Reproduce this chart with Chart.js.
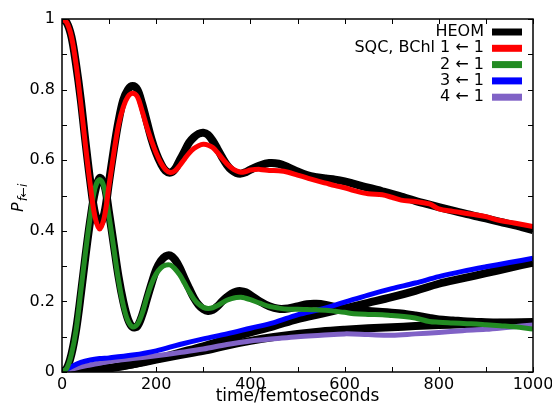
<!DOCTYPE html>
<html lang="en">
<head>
<meta charset="UTF-8">
<title>Populations HEOM vs SQC</title>
<script src="https://cdn.jsdelivr.net/npm/chart.js"></script>
<style>
  body { margin: 0; background: #fff; }
  canvas { display: block; }
</style>
</head>
<body>
<canvas id="chart" width="552" height="407"></canvas>
<script>
// time grids (fs)
const timeOsc = [0,10,20,30,40,50,60,70,80,90,100,110,120,130,140,150,160,170,180,190,200,
  210,220,230,240,250,260,270,280,290,300,310,320,330,340,350,360,370,380,390,400,
  420,440,460,480,500,520,540,560,580,600,620,650,680,700,720,750,780,800,830,860,880,900,930,960,1000];
const timeSlow = [0,20,40,60,80,100,150,200,250,300,350,400,450,500,550,600,650,700,750,800,850,900,950,1000];

// HEOM (black)
const heom11 = [1.0,0.99,0.95,0.87,0.77,0.65,0.54,0.45,0.42,0.45,0.54,0.63,0.71,0.77,0.80,0.81,0.80,0.76,0.71,0.66,0.62,
  0.59,0.57,0.565,0.575,0.60,0.625,0.65,0.665,0.675,0.678,0.672,0.655,0.632,0.608,0.587,0.572,0.564,0.562,0.566,0.573,
  0.585,0.592,0.59,0.58,0.568,0.558,0.552,0.548,0.545,0.54,0.533,0.522,0.512,0.505,0.497,0.485,0.474,0.467,0.457,0.447,0.441,0.435,0.425,0.416,0.402];
const heom21 = [0,0.01,0.05,0.12,0.22,0.33,0.43,0.51,0.55,0.53,0.45,0.36,0.27,0.20,0.15,0.127,0.13,0.16,0.205,0.25,0.29,
  0.315,0.328,0.33,0.318,0.295,0.265,0.237,0.21,0.19,0.178,0.173,0.176,0.186,0.20,0.212,0.222,0.228,0.229,0.226,0.218,
  0.20,0.186,0.179,0.18,0.186,0.192,0.193,0.19,0.184,0.179,0.176,0.173,0.17,0.168,0.166,0.16,0.153,0.149,0.146,0.143,0.142,0.141,0.14,0.139,0.138];
const heom31 = [0,0,0.002,0.004,0.007,0.01,0.022,0.037,0.055,0.073,0.093,0.112,0.13,0.15,0.165,0.18,0.196,0.212,0.23,0.25,0.265,0.28,0.295,0.31];
const heom41 = [0,0.001,0.003,0.005,0.008,0.012,0.022,0.035,0.048,0.06,0.075,0.088,0.099,0.108,0.115,0.12,0.124,0.127,0.13,0.133,0.135,0.137,0.14,0.142];

// SQC
const sqc11 = [1.0,0.99,0.95,0.87,0.76,0.64,0.53,0.44,0.405,0.44,0.53,0.62,0.70,0.75,0.78,0.79,0.78,0.74,0.695,0.655,0.62,
  0.592,0.573,0.565,0.57,0.585,0.603,0.62,0.633,0.641,0.645,0.643,0.636,0.622,0.605,0.59,0.578,0.57,0.566,0.568,0.572,
  0.574,0.571,0.57,0.566,0.558,0.55,0.542,0.535,0.528,0.522,0.514,0.505,0.502,0.495,0.487,0.483,0.476,0.462,0.455,0.449,0.445,0.44,0.429,0.422,0.412];
const sqc21 = [0,0.01,0.05,0.12,0.23,0.34,0.44,0.52,0.545,0.52,0.44,0.35,0.26,0.19,0.145,0.128,0.135,0.165,0.21,0.25,0.278,
  0.295,0.303,0.303,0.292,0.275,0.252,0.228,0.207,0.192,0.183,0.18,0.182,0.188,0.196,0.203,0.208,0.211,0.212,0.209,0.205,
  0.195,0.186,0.181,0.178,0.178,0.177,0.176,0.175,0.172,0.169,0.165,0.163,0.162,0.16,0.158,0.153,0.143,0.141,0.139,0.137,0.136,0.134,0.131,0.128,0.122];
const sqc31 = [0,0.015,0.027,0.034,0.038,0.04,0.048,0.06,0.078,0.094,0.108,0.124,0.14,0.162,0.178,0.198,0.218,0.236,0.252,0.27,0.285,0.298,0.31,0.322];
const sqc41 = [0,0.008,0.015,0.02,0.025,0.03,0.038,0.046,0.055,0.065,0.078,0.088,0.094,0.10,0.104,0.108,0.106,0.104,0.108,0.112,0.117,0.121,0.127,0.133];

const legendLabels = ['HEOM', 'SQC, BChl 1 \u2190 1', '2 \u2190 1', '3 \u2190 1', '4 \u2190 1'];
const legendColors = ['#000000', '#ff0000', '#228b22', '#0000ff', '#8062c6'];

const xTicks = [0, 200, 400, 600, 800, 1000];
const yTickLabels = ['0', '0.2', '0.4', '0.6', '0.8', '1'];

function pts(ts, vs) { return ts.map((t, i) => ({ x: t, y: vs[i] })); }

const FONT = "'DejaVu Sans', sans-serif";

function line(data, color, width) {
    return {
        data: data, borderColor: color, borderWidth: width,
        pointRadius: 0, tension: 0.35, fill: false
    };
}

// drawn in reverse order: first datasets end up on top
const datasets = [
    line(pts(timeOsc, sqc11), legendColors[1], 5),
    line(pts(timeOsc, sqc21), legendColors[2], 5),
    line(pts(timeSlow, sqc31), legendColors[3], 5),
    line(pts(timeSlow, sqc41), legendColors[4], 5),
    line(pts(timeOsc, heom11), legendColors[0], 8),
    line(pts(timeOsc, heom21), legendColors[0], 8),
    line(pts(timeSlow, heom31), legendColors[0], 8),
    line(pts(timeSlow, heom41), legendColors[0], 8)
];

const decor = {
    id: 'decor',
    afterDraw(chart) {
        const ctx = chart.ctx, a = chart.chartArea;
        const xs = chart.scales.x, ys = chart.scales.y;
        ctx.save();
        ctx.strokeStyle = '#000';
        ctx.lineWidth = 1.5;
        ctx.strokeRect(a.left, a.top, a.right - a.left, a.bottom - a.top);
        ctx.lineWidth = 1;
        ctx.beginPath();
        xs.ticks.forEach(t => {
            const px = Math.round(xs.getPixelForValue(t.value)) + 0.5;
            ctx.moveTo(px, a.bottom); ctx.lineTo(px, a.bottom - 5);
            ctx.moveTo(px, a.top); ctx.lineTo(px, a.top + 5);
        });
        ys.ticks.forEach(t => {
            const py = Math.round(ys.getPixelForValue(t.value)) + 0.5;
            ctx.moveTo(a.left, py); ctx.lineTo(a.left + 5, py);
            ctx.moveTo(a.right, py); ctx.lineTo(a.right - 5, py);
        });
        ctx.stroke();

        // legend
        ctx.font = '16px ' + FONT;
        ctx.textAlign = 'right';
        ctx.textBaseline = 'middle';
        legendLabels.forEach((lab, i) => {
            const y = 32 + i * 16.3;
            ctx.fillStyle = '#000';
            ctx.fillText(lab, 484, y);
            ctx.fillStyle = legendColors[i];
            ctx.fillRect(492, y - 3.5, 30, 7);
        });

        // x title
        ctx.fillStyle = '#000';
        ctx.textAlign = 'center';
        ctx.textBaseline = 'alphabetic';
        ctx.font = '17px ' + FONT;
        ctx.fillText('time/femtoseconds', (a.left + a.right) / 2, 401);

        // y title P_{f<-i}
        ctx.translate(23, 212);
        ctx.rotate(-Math.PI / 2);
        ctx.textAlign = 'left';
        ctx.font = 'italic 16px ' + FONT;
        ctx.fillText('P', 0, 0);
        const w = ctx.measureText('P').width;
        ctx.font = 'italic 12px ' + FONT;
        ctx.fillText('f\u2190i', w + 1, 4);
        ctx.restore();
    }
};

new Chart(document.getElementById('chart'), {
    type: 'line',
    data: { datasets: datasets },
    options: {
        responsive: false,
        animation: false,
        layout: { padding: { top: 19, right: 19, left: 0, bottom: 0 } },
        plugins: { legend: { display: false }, tooltip: { enabled: false } },
        scales: {
            x: {
                type: 'linear', min: 0, max: 1000,
                grid: { display: false, drawTicks: false },
                border: { display: false },
                ticks: {
                    stepSize: 100, autoSkip: false, maxRotation: 0, padding: 3,
                    color: '#000', font: { family: FONT, size: 16 },
                    callback: v => xTicks.includes(v) ? String(v) : ''
                },
                afterFit: s => { s.height = 35; s.paddingLeft = 0; s.paddingRight = 0; }
            },
            y: {
                min: 0, max: 1,
                grid: { display: false, drawTicks: false },
                border: { display: false },
                ticks: {
                    stepSize: 0.1, autoSkip: false, padding: 7,
                    color: '#000', font: { family: FONT, size: 16 },
                    callback: v => {
                        const k = Math.round(v * 10);
                        return k % 2 === 0 ? yTickLabels[k / 2] : '';
                    }
                },
                afterFit: s => { s.width = 62; s.paddingTop = 0; s.paddingBottom = 0; }
            }
        }
    },
    plugins: [decor]
});
</script>
</body>
</html>
